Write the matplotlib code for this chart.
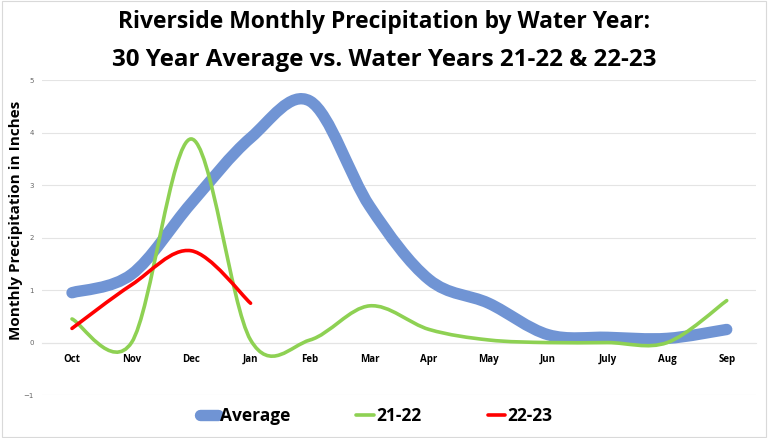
import matplotlib.pyplot as plt
from matplotlib.path import Path
from matplotlib.patches import PathPatch
from matplotlib.lines import Line2D

months = ['Oct', 'Nov', 'Dec', 'Jan', 'Feb', 'Mar', 'Apr', 'May', 'Jun', 'July', 'Aug', 'Sep']
average = [0.95, 1.3, 2.65, 3.9, 4.6, 2.6, 1.2, 0.75, 0.15, 0.1, 0.08, 0.25]
wy_21_22 = [0.45, 0.0, 3.88, 0.05, 0.05, 0.7, 0.25, 0.05, 0.0, 0.0, 0.0, 0.8]
wy_22_23 = [0.27, 1.1, 1.75, 0.75]


def smooth_path(ys):
    # Excel-style smoothed line: cubic Bezier segments (Catmull-Rom control points)
    xs = list(range(len(ys)))
    pts = list(zip(xs, ys))
    verts = [pts[0]]
    codes = [Path.MOVETO]
    n = len(pts)
    for i in range(n - 1):
        p0 = pts[i - 1] if i > 0 else pts[i]
        p1 = pts[i]
        p2 = pts[i + 1]
        p3 = pts[i + 2] if i + 2 < n else pts[i + 1]
        c1 = (p1[0] + (p2[0] - p0[0]) / 6, p1[1] + (p2[1] - p0[1]) / 6)
        c2 = (p2[0] - (p3[0] - p1[0]) / 6, p2[1] - (p3[1] - p1[1]) / 6)
        verts += [c1, c2, p2]
        codes += [Path.CURVE4] * 3
    return Path(verts, codes)


fig = plt.figure(figsize=(7.68, 4.38), dpi=100)
ax = fig.add_axes([0.055, 0.098, 0.930, 0.719])

series = [
    (average, '#7094D4', 8.2, 'Average'),
    (wy_21_22, '#8ED153', 2.6, '21-22'),
    (wy_22_23, '#FF0000', 2.6, '22-23'),
]
handles = []
for ys, color, lw, label in series:
    ax.add_patch(PathPatch(smooth_path(ys), facecolor='none', edgecolor=color,
                           lw=lw, capstyle='round', joinstyle='round', zorder=3))
    handles.append(Line2D([], [], color=color, lw=lw, solid_capstyle='round', label=label))

ax.set_xlim(-0.5, 11.5)
ax.set_ylim(-1, 5)
ax.set_yticks(range(-1, 6))
ax.yaxis.grid(True, color='#E4E4E4', lw=0.8)
ax.set_axisbelow(True)
for s in ['top', 'right', 'left']:
    ax.spines[s].set_visible(False)
ax.spines['bottom'].set_position(('data', 0))
ax.spines['bottom'].set_color('#E4E4E4')
ax.set_xticks(range(len(months)))
ax.set_xticklabels(months, fontsize=7, fontweight='bold', family='Open Sans')
ax.tick_params(axis='x', length=0, pad=8)
ax.tick_params(axis='y', length=0, labelsize=5, labelcolor='#666666', pad=6)
ax.set_ylabel('Monthly Precipitation in Inches', fontsize=11, fontweight='bold',
              family='Open Sans')
ax.yaxis.set_label_coords(-0.027, 0.555)

fig.text(0.5, 0.95, 'Riverside Monthly Precipitation by Water Year:', ha='center', va='center',
         fontsize=16.5, fontweight='bold', family='Open Sans')
fig.text(0.5, 0.863, '30 Year Average vs. Water Years 21-22 & 22-23', ha='center', va='center',
         fontsize=17.4, fontweight='bold', family='Open Sans')

fig.legend(handles=handles, loc='center', bbox_to_anchor=(0.49, 0.05), ncol=3, frameon=False,
           prop={'family': 'Open Sans', 'weight': 'bold', 'size': 12.5},
           handlelength=1.0, handletextpad=0.15, columnspacing=3.8)

fig.patches.append(plt.Rectangle((0.002, 0.002), 0.996, 0.996, transform=fig.transFigure,
                                 fill=False, edgecolor='#D9D9D9', lw=0.8))
fig.savefig('out.png', dpi=100)
